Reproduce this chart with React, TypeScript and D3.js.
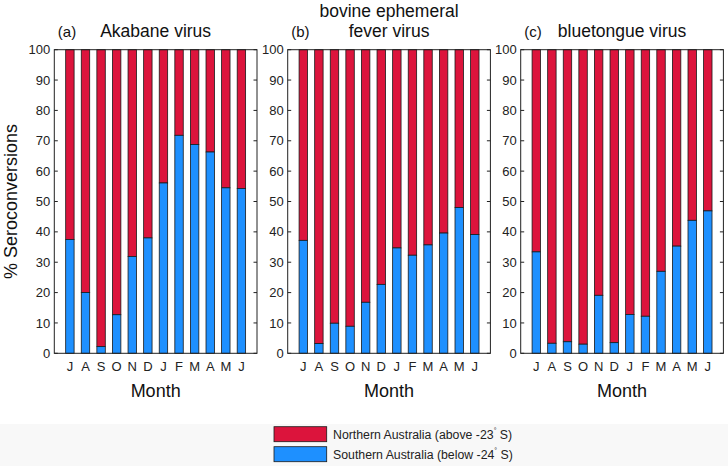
import React from "react";
import * as d3 from "d3";

// month labels (July to June)
const months = ["J", "A", "S", "O", "N", "D", "J", "F", "M", "A", "M", "J"];

// % seroconversions in Southern Australia, per month
const akabaneSouth = [37.5, 20.0, 2.2, 12.7, 31.9, 38.0, 56.1, 71.8, 68.8, 66.3, 54.5, 54.3];
const befSouth = [37.2, 3.2, 9.9, 8.9, 16.8, 22.7, 34.7, 32.3, 35.7, 39.6, 48.0, 39.1];
const btSouth = [33.4, 3.3, 3.8, 3.0, 19.1, 3.5, 12.8, 12.2, 27.0, 35.3, 43.8, 46.9];

const yTicks = [0, 10, 20, 30, 40, 50, 60, 70, 80, 90, 100];

const panelTitles = [["Akabane virus"], ["bovine ephemeral", "fever virus"], ["bluetongue virus"]];
const panelTags = ["(a)", "(b)", "(c)"];
const seriesNames = ["Northern Australia (above -23", "Southern Australia (below -24"];

const RED = "#DC143C";
const BLUE = "#1E90FF";
const INK = "#222";
const FONT = "'Liberation Sans', Arial, Helvetica, sans-serif";

const panelLefts = [54.3, 287.7, 520.7];
const panelW = 202.7;
const top = 49.7;
const bottom = 353.3;

const Panel = ({ left, south, title, tag }) => {
    const x = d3.scaleLinear().domain([0, 13]).range([left, left + panelW]);
    const y = d3.scaleLinear().domain([0, 100]).range([bottom, top]);
    const bw = (x(1) - x(0)) * 0.54;
    const cx = (left + left + panelW) / 2;

    return (
        <g>
            {/* title */}
            {title.map((t, i) => (
                <text key={i} x={cx} y={37 - (title.length - 1 - i) * 20} textAnchor="middle"
                    style={{ fontSize: "17.5px", fill: "#111" }}>{t}</text>
            ))}
            <text x={left + 3.5} y={37} style={{ fontSize: "15px", fill: "#111" }}>{tag}</text>

            {/* bars */}
            {south.map((v, i) => (
                <g key={i}>
                    <rect x={x(i + 1) - bw / 2} y={y(100)} width={bw} height={y(v) - y(100)}
                        fill={RED} stroke="#1a1a1a" strokeWidth={0.8} />
                    <rect x={x(i + 1) - bw / 2} y={y(v)} width={bw} height={y(0) - y(v)}
                        fill={BLUE} stroke="#1a1a1a" strokeWidth={0.8} />
                </g>
            ))}

            {/* box */}
            <rect x={left} y={top} width={panelW} height={bottom - top} fill="none" stroke={INK} strokeWidth={1} />

            {/* y ticks */}
            {yTicks.map(t => (
                <g key={t} transform={`translate(0,${y(t)})`}>
                    <line x1={left} x2={left + 3.5} stroke={INK} />
                    <line x1={left + panelW} x2={left + panelW - 3.5} stroke={INK} />
                    <text x={left - 4} y={4.6} textAnchor="end" style={{ fontSize: "13px", fill: INK }}>{t}</text>
                </g>
            ))}

            {/* x tick labels */}
            {months.map((m, i) => (
                <text key={i} x={x(i + 1)} y={370.5} textAnchor="middle"
                    style={{ fontSize: "13px", fill: INK }}>{m}</text>
            ))}
            <text x={cx} y={396.5} textAnchor="middle" style={{ fontSize: "18px", fill: "#111" }}>Month</text>
        </g>
    );
};

export default function App() {
    const data = [akabaneSouth, befSouth, btSouth];
    return (
        <svg width={728} height={466} viewBox="0 0 728 466"
            style={{ position: "absolute", left: 0, top: 0, fontFamily: FONT, background: "#fff" }}>
            <rect x={0} y={424} width={728} height={42} fill="#f8f8f8" />

            {data.map((s, i) => (
                <Panel key={i} left={panelLefts[i]} south={s} title={panelTitles[i]} tag={panelTags[i]} />
            ))}

            {/* Y-axis label */}
            <text transform={`translate(17,${(top + bottom) / 2}) rotate(-90)`} textAnchor="middle"
                style={{ fontSize: "18px", fill: "#111" }}>% Seroconversions</text>

            {/* legend */}
            {seriesNames.map((name, i) => (
                <g key={i} transform={`translate(274,${426.7 + i * 20})`}>
                    <rect x={0} y={0} width={52.7} height={15} fill={i === 0 ? RED : BLUE} stroke="#1a1a1a" strokeWidth={0.8} />
                    <text x={59} y={12} style={{ fontSize: "12.3px", fill: INK }}>
                        {name}
                        <tspan dy={-6} style={{ fontSize: "7px" }}>°</tspan>
                        <tspan dy={6}> S)</tspan>
                    </text>
                </g>
            ))}
        </svg>
    );
}
